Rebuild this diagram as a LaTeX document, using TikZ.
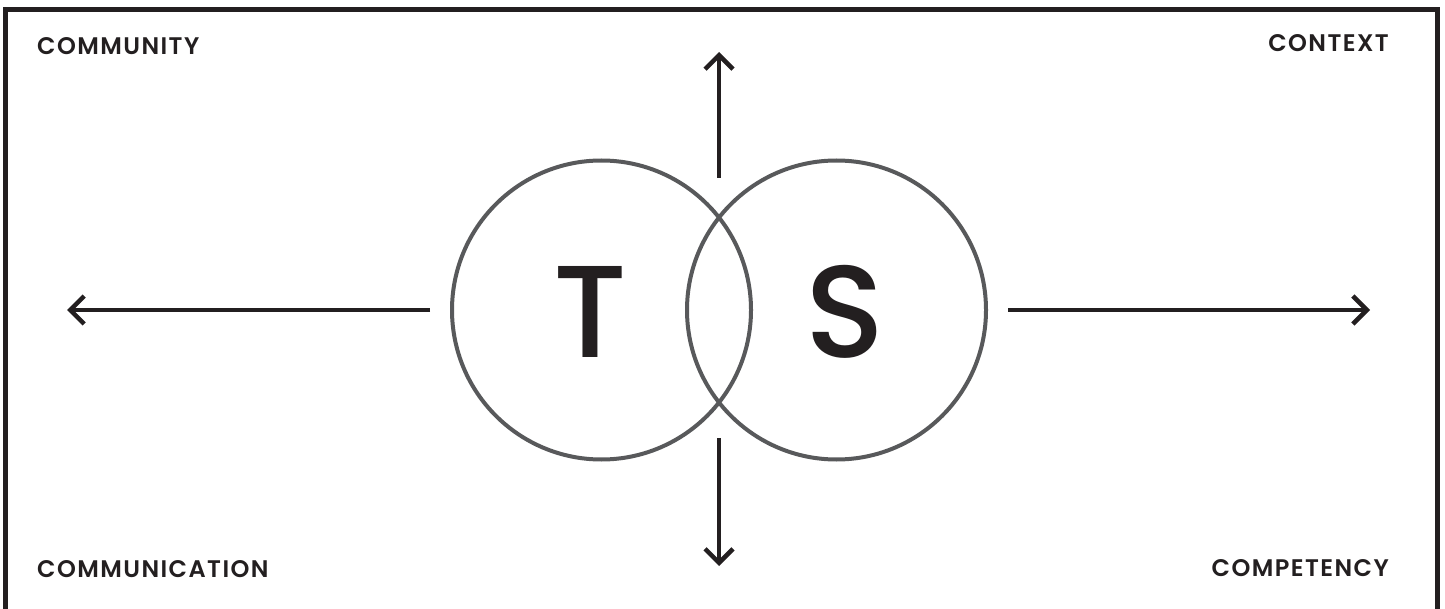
\documentclass[tikz,border=0pt]{standalone}
\usepackage{fontspec}
\setmainfont{Poppins}
\newfontfamily\labelfont{Poppins SemiBold}[LetterSpace=6]
\newfontfamily\letterfont{Poppins Medium}
\usepackage{xcolor}
\usetikzlibrary{arrows.meta,positioning}
\definecolor{ink}{HTML}{231F20}
\definecolor{ringgray}{HTML}{58595B}

\begin{document}
\begin{tikzpicture}[
    x=1pt,y=-1pt,
    corner/.style={inner sep=0pt,text=ink,font=\labelfont\fontsize{24}{24}\selectfont},
    ring/.style={circle,draw=ringgray,line width=4pt,minimum size=299pt,inner sep=0pt},
    letter/.style={inner sep=0pt,text=ink,font=\letterfont\fontsize{131}{131}\selectfont},
    arrow/.style={-{Straight Barb[length=14pt,width=28pt]},draw=ink,line width=4.5pt},
    frame/.style={draw=ink,line width=5pt}
  ]
    \useasboundingbox (0,0) rectangle (1445,609);
    % open frame, cut by the page edge
    \draw[frame] (5,609) -- (5,10) -- (1437.5,10) -- (1437.5,609);
    \node[corner,anchor=base west] (community) at (37,55) {COMMUNITY};
    \node[corner,anchor=base east] (context) at (1389,52) {CONTEXT};
    \node[corner,anchor=base west] (communication) at (37,577) {COMMUNICATION};
    \node[corner,anchor=base east] (competency) at (1389,576) {COMPETENCY};
    \node[ring] (tring) at (601.5,310) {};
    \node[ring] (sring) at (836.5,310) {};
    \node[letter,anchor=base] (tletter) at (590.5,357) {T};
    \node[letter,anchor=base] (sletter) at (845,357) {S};
    \coordinate (leftfrom) at (430,310);
    \coordinate (leftto) at (67,310);
    \coordinate (rightfrom) at (1008,310);
    \coordinate (rightto) at (1370,310);
    \coordinate (upfrom) at (719,178);
    \coordinate (upto) at (719,52);
    \coordinate (downfrom) at (719,438);
    \coordinate (downto) at (719,566);
    \draw[arrow] (leftfrom) -- (leftto);
    \draw[arrow] (rightfrom) -- (rightto);
    \draw[arrow] (upfrom) -- (upto);
    \draw[arrow] (downfrom) -- (downto);
  \end{tikzpicture}
\end{document}
